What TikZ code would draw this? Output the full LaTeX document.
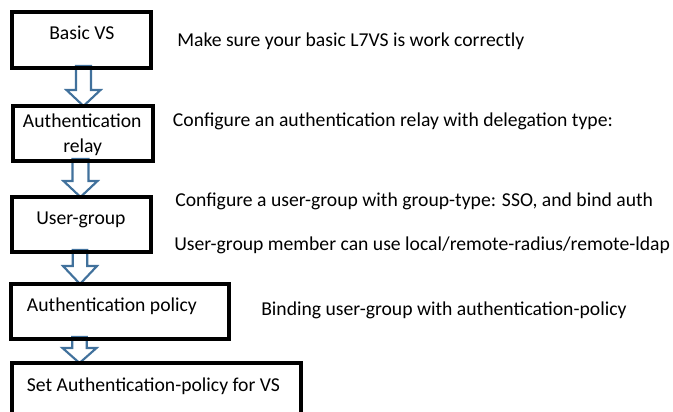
\documentclass[tikz,border=0pt]{standalone}
\usepackage{fontspec}
\setmainfont{Carlito}
\usetikzlibrary{calc}
\definecolor{arrowblue}{HTML}{41719C}
\tikzset{
  box/.style={draw=black, line width=2.4pt, rectangle, inner sep=0pt, outer sep=0pt},
  lbl/.style={anchor=base west, inner sep=0pt, font=\fontsize{14.75pt}{17pt}\selectfont},
  hollow/.style={draw=arrowblue, fill=white, line width=1.6pt, line join=miter},
}
\newcommand\hollowarrow[5]{% from, to, center x, shaft half width, head length
  \coordinate (hc) at (#3,0);
  \draw[hollow] ($(hc |- #1.south)+(-#4,-2)$) -- ($(hc |- #2.north)+(-#4,-#5)$)
    -- ($(hc |- #2.north)+(-17,-#5)$) -- (hc |- #2.north)
    -- ($(hc |- #2.north)+(17,-#5)$) -- ($(hc |- #2.north)+(#4,-#5)$)
    -- ($(hc |- #1.south)+(#4,-2)$) -- cycle;
}
\begin{document}
\begin{tikzpicture}[x=0.75pt, y=-0.75pt]
\useasboundingbox (0,0) rectangle (673,411);
\clip (0,0) rectangle (673,411);
% boxes
\node[box, minimum width=139*0.75pt, minimum height=56*0.75pt] (b1) at (81.5,40) {};
\node[box, minimum width=140*0.75pt, minimum height=55*0.75pt] (b2) at (83,133.5) {};
\node[box, minimum width=139*0.75pt, minimum height=55*0.75pt] (b3) at (81.5,224.5) {};
\node[box, minimum width=218*0.75pt, minimum height=55*0.75pt] (b4) at (120,311.5) {};
\node[box, minimum width=289*0.75pt, minimum height=70*0.75pt] (b5) at (156.5,398) {};
% hollow block arrows
\hollowarrow{b1}{b2}{83.5}{7.5}{16}
\hollowarrow{b2}{b3}{80.5}{8}{16}
\hollowarrow{b3}{b4}{80}{7.3}{18}
\hollowarrow{b4}{b5}{79.5}{7.3}{15}
% redraw box borders over the arrow ends
\foreach \b in {b1,b2,b3,b4,b5}
  \draw[line width=2.4pt] (\b.south west) rectangle (\b.north east);
% box labels
\node[lbl] (t1) at (49,39.3) {Basic VS};
\node[lbl] (t2a) at (22.7,127.7) {Authentication};
\node[lbl] (t2b) at (63,152) {relay};
\node[lbl] (t3) at (36,224) {User-group};
\node[lbl] (t4) at (26.7,311.7) {Authentication policy};
\node[lbl] (t5) at (26.7,391.7) {Set Authentication-policy for VS};
% side notes
\node[lbl] (n1) at (177,46.7) {Make sure your basic L7VS is work correctly};
\node[lbl] (n2) at (172.7,126.7) {Configure an authentication relay with delegation type:};
\node[lbl] (n3) at (175,206) {Configure a user-group with group-type: SSO, and bind auth};
\node[lbl] (n4) at (174,250) {User-group member can use local/remote-radius/remote-ldap};
\node[lbl] (n5) at (261,315) {Binding user-group with authentication-policy};
\end{tikzpicture}
\end{document}
